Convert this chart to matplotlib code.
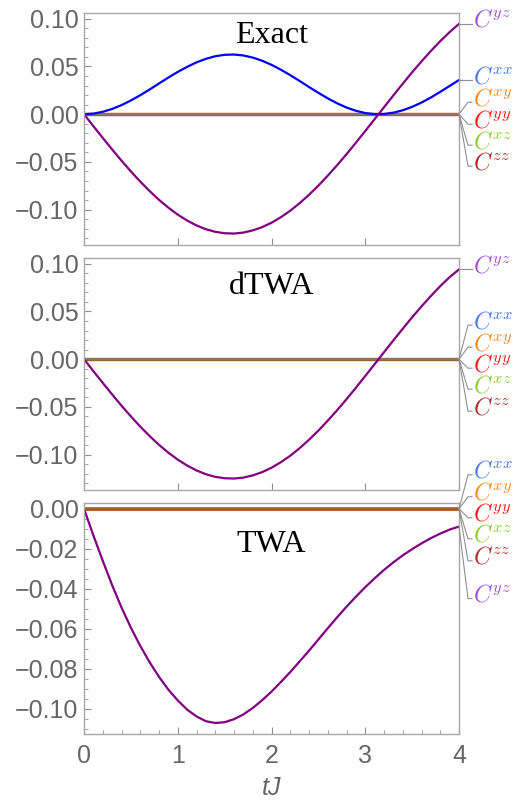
import matplotlib
matplotlib.use("Agg")
import matplotlib.pyplot as plt
from matplotlib.ticker import MultipleLocator, FuncFormatter
import numpy as np

plt.rcParams['font.family'] = ['Liberation Sans', 'DejaVu Sans']
plt.rcParams['mathtext.fontset'] = 'cm'

# time axis, tJ
t = [round(0.1 * i, 1) for i in range(41)]

# Exact
exact_yz = [0, -0.0125, -0.0248, -0.0369, -0.0487, -0.0599, -0.0706, -0.0805, -0.0897, -0.0979,
            -0.1052, -0.1114, -0.1165, -0.1205, -0.1232, -0.1247, -0.1250, -0.1240, -0.1217, -0.1183,
            -0.1137, -0.1079, -0.1011, -0.0932, -0.0844, -0.0748, -0.0644, -0.0534, -0.0419, -0.0299,
            -0.0176, -0.0052, 0.0073, 0.0197, 0.0319, 0.0439, 0.0553, 0.0662, 0.0765, 0.0860, 0.0946]
exact_xx = [0, 0.0006, 0.0025, 0.0055, 0.0095, 0.0144, 0.0199, 0.0259, 0.0322, 0.0384,
            0.0443, 0.0496, 0.0543, 0.0580, 0.0607, 0.0622, 0.0625, 0.0615, 0.0593, 0.0560,
            0.0517, 0.0466, 0.0409, 0.0348, 0.0285, 0.0224, 0.0166, 0.0114, 0.0070, 0.0036,
            0.0012, 0.0001, 0.0002, 0.0016, 0.0041, 0.0077, 0.0122, 0.0175, 0.0234, 0.0296, 0.0358]

# dTWA
dtwa_yz = [0, -0.0125, -0.0248, -0.0369, -0.0487, -0.0599, -0.0706, -0.0805, -0.0897, -0.0979,
           -0.1052, -0.1114, -0.1165, -0.1205, -0.1232, -0.1247, -0.1250, -0.1240, -0.1217, -0.1183,
           -0.1137, -0.1079, -0.1011, -0.0932, -0.0844, -0.0748, -0.0644, -0.0534, -0.0419, -0.0299,
           -0.0176, -0.0052, 0.0073, 0.0197, 0.0319, 0.0439, 0.0553, 0.0662, 0.0765, 0.0860, 0.0940]

# TWA
twa_yz = [0, -0.0133, -0.0260, -0.0382, -0.0494, -0.0595, -0.0686, -0.0768, -0.0841, -0.0905,
          -0.0959, -0.1005, -0.1039, -0.1063, -0.1072, -0.1068, -0.1053, -0.1029, -0.0997, -0.0958,
          -0.0915, -0.0867, -0.0817, -0.0764, -0.0710, -0.0654, -0.0598, -0.0543, -0.0490, -0.0440,
          -0.0392, -0.0348, -0.0306, -0.0268, -0.0233, -0.0202, -0.0173, -0.0147, -0.0124, -0.0104, -0.0089]

zero = [0.0] * len(t)

label_colors = {'xx': '#4a78ee', 'xy': '#ff8a1e', 'yy': '#ff1a1a', 'xz': '#8ccc32',
                'zz': '#b02a2a', 'yz': '#a050dc'}

W, H = 526, 802
fig = plt.figure(figsize=(W / 100, H / 100), dpi=100)

def make_ax(top, bottom):
    return fig.add_axes([84 / W, 1 - bottom / H, (459 - 84) / W, (bottom - top) / H])

ax1 = make_ax(13, 245)
ax2 = make_ax(258, 490)
ax3 = make_ax(503, 734)

purple = '#800080'
blue = '#0000ff'

# panel 1
ax1.plot(t, zero, color='#e19c24', lw=2.2)
ax1.plot(t, zero, color='#eb6235', lw=2.2)
ax1.plot(t, zero, color='#a0622d', lw=2.4)
ax1.plot(t, zero, color='#808080', lw=1.1)
ax1.plot(t, exact_xx, color=blue, lw=1.6)
ax1.plot(t, exact_yz, color=purple, lw=1.6)

# panel 2
ax2.plot(t, zero, color='#0000ff', lw=2.2)
ax2.plot(t, zero, color='#a0622d', lw=2.4)
ax2.plot(t, zero, color='#808080', lw=1.1)
ax2.plot(t, dtwa_yz, color=purple, lw=1.6)

# panel 3
ax3.plot(t, zero, color='#808080', lw=2.2)
ax3.plot(t, zero, color='#a0622d', lw=2.6)
ax3.plot(t, twa_yz, color=purple, lw=1.6)

def fmt(v, pos):
    if abs(v) < 1e-9:
        return '0.00'
    return ('%.2f' % v).replace('-', '\u2212')

for ax in (ax1, ax2):
    ax.set_ylim(-0.137, 0.106)
    ax.yaxis.set_major_locator(MultipleLocator(0.05))
    ax.yaxis.set_minor_locator(MultipleLocator(0.01))
ax3.set_ylim(-0.1127, 0.0029)
ax3.yaxis.set_major_locator(MultipleLocator(0.02))
ax3.yaxis.set_minor_locator(MultipleLocator(0.005))

for ax in (ax1, ax2, ax3):
    ax.set_xlim(0, 4)
    ax.xaxis.set_major_locator(MultipleLocator(1))
    ax.yaxis.set_major_formatter(FuncFormatter(fmt))
    for s in ax.spines.values():
        s.set_color('#a8a8a8')
        s.set_linewidth(1.0)
    ax.tick_params(which='both', direction='in', top=False, right=False, color='#909090')
    ax.tick_params(which='major', length=5, width=0.8, labelsize=18, labelcolor='#666666', pad=4)
    ax.tick_params(which='minor', length=3, width=0.6)
for ax in (ax1, ax2):
    ax.tick_params(axis='x', labelbottom=False)
ax3.tick_params(axis='x', pad=7)
ax3.xaxis.set_minor_locator(MultipleLocator(0.2))
ax3.set_xlabel('tJ', fontsize=18, color='#666666', style='italic', labelpad=6)

ax1.text(0.5, 0.905, 'Exact', transform=ax1.transAxes, ha='center', va='center',
         fontsize=23, family='Liberation Serif')
ax2.text(0.5, 0.875, 'dTWA', transform=ax2.transAxes, ha='center', va='center',
         fontsize=23, family='Liberation Serif')
ax3.text(0.5, 0.82, 'TWA', transform=ax3.transAxes, ha='center', va='center',
         fontsize=23, family='Liberation Serif')

# callout labels: (series key, end value, vertical offset of label in px, relative to its own end point)
callouts = {
    ax1: [('yz', exact_yz[-1], 0), ('xx', exact_xx[-1], 0),
          ('xy', 0, -12), ('yy', 0, 10), ('xz', 0, 31), ('zz', 0, 52)],
    ax2: [('yz', dtwa_yz[-1], 0), ('xx', 0, -34), ('xy', 0, -12), ('yy', 0, 9),
          ('xz', 0, 30), ('zz', 0, 52)],
    ax3: [('xx', 0, -34), ('xy', 0, -12), ('yy', 0, 9), ('xz', 0, 30),
          ('zz', 0, 52), ('yz', twa_yz[-1], 72)],
}

fig.canvas.draw()
for ax, items in callouts.items():
    for key, val, dy in items:
        x0, y0 = ax.transData.transform((4, val))
        yl = y0 - dy
        if dy == 0:
            xs, ys = [x0, x0 + 13], [y0, y0]
        else:
            xs, ys = [x0, x0 + 9, x0 + 13], [y0, yl, yl]
        fig.add_artist(plt.Line2D(xs, ys, transform=None, color='#909090', lw=0.8))
        fig.text((x0 + 14) / W, (yl + 3) / H, r'$C^{%s}$' % key, color=label_colors[key],
                 fontsize=17, ha='left', va='center')

fig.savefig('out.png', dpi=100)
